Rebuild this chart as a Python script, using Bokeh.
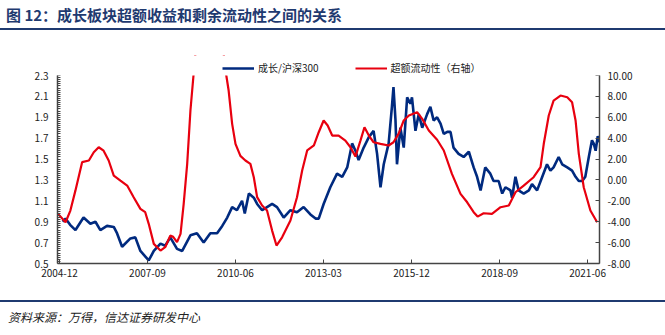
import pandas as pd
from bokeh.plotting import figure
from bokeh.models import (Range1d, LinearAxis, FixedTicker, DatetimeTickFormatter, BoxAnnotation,
                          Legend, LegendItem, Div, NumeralTickFormatter, ColumnDataSource)
from bokeh.layouts import column
from bokeh.embed import file_html
from bokeh.resources import INLINE

TITLE = "图 12：成长板块超额收益和剩余流动性之间的关系"
SOURCE = "资料来源：万得，信达证券研发中心"
SERIES_GROWTH = "成长/沪深300"
SERIES_LIQ = "超额流动性（右轴）"

growth_dates = [
    "2005-01-05", "2005-02-08", "2005-04-01", "2005-06-01", "2005-09-01", "2005-11-18",
    "2006-01-15", "2006-03-12", "2006-05-27", "2006-08-12", "2006-09-18", "2006-11-15",
    "2007-02-18", "2007-04-15", "2007-06-12", "2007-09-15", "2007-11-12", "2008-01-27",
    "2008-03-21", "2008-05-18", "2008-08-03", "2008-10-01", "2009-01-03", "2009-03-18",
    "2009-06-03", "2009-08-18", "2009-11-03", "2010-01-01", "2010-02-27", "2010-04-24",
    "2010-06-18", "2010-08-15", "2010-09-15", "2010-11-01", "2010-12-27", "2011-02-03",
    "2011-04-01", "2011-05-27", "2011-07-24", "2011-09-18", "2011-12-03", "2012-02-18",
    "2012-05-03", "2012-07-18", "2012-10-03", "2012-12-01", "2013-01-06", "2013-03-03",
    "2013-05-18", "2013-08-03", "2013-10-01", "2013-11-27", "2014-01-22", "2014-03-01",
    "2014-04-06", "2014-06-03", "2014-08-01", "2014-09-24", "2014-11-03", "2014-12-12",
    "2015-01-18", "2015-03-15", "2015-04-21", "2015-05-09", "2015-06-01", "2015-06-18",
    "2015-07-27", "2015-09-03", "2015-10-12", "2015-11-18", "2015-12-06", "2016-01-15",
    "2016-02-21", "2016-04-01", "2016-05-27", "2016-07-03", "2016-08-09", "2016-09-18",
    "2016-10-27", "2016-12-03", "2017-01-12", "2017-02-18", "2017-03-24", "2017-05-21",
    "2017-07-18", "2017-09-15", "2017-11-09", "2017-12-18", "2018-01-27", "2018-03-21",
    "2018-05-18", "2018-06-24", "2018-08-21", "2018-10-01", "2018-11-06", "2019-01-03",
    "2019-01-21", "2019-03-01", "2019-04-06", "2019-06-03", "2019-08-01", "2019-09-06",
    "2019-11-03", "2020-01-01", "2020-02-24", "2020-04-03", "2020-05-09", "2020-07-06",
    "2020-08-15", "2020-10-12", "2020-12-06", "2021-01-15", "2021-02-21", "2021-04-01",
    "2021-05-06", "2021-06-15", "2021-07-21", "2021-08-09", "2021-09-01", "2021-09-25",
    "2021-10-08",
]
growth_vals = [
    0.90, 0.93, 0.87, 0.82, 0.94, 0.88,
    0.90, 0.82, 0.86, 0.85, 0.79, 0.66,
    0.74, 0.75, 0.62, 0.53, 0.62, 0.69,
    0.67, 0.75, 0.64, 0.62, 0.77, 0.79,
    0.70, 0.79, 0.79, 0.86, 0.94, 1.04,
    1.01, 1.10, 0.98, 1.17, 1.13, 1.07,
    1.01, 1.04, 1.07, 1.04, 0.94, 1.01,
    0.99, 1.04, 0.97, 0.93, 0.93, 1.07,
    1.23, 1.36, 1.33, 1.42, 1.65, 1.58,
    1.49, 1.61, 1.71, 1.77, 1.55, 1.23,
    1.45, 1.65, 2.00, 2.19, 1.87, 1.45,
    1.80, 1.61, 2.09, 2.03, 2.09, 1.77,
    1.93, 1.80, 1.93, 2.00, 1.87, 1.90,
    1.84, 1.74, 1.76, 1.76, 1.61, 1.55,
    1.52, 1.57, 1.42, 1.33, 1.20, 1.42,
    1.36, 1.29, 1.29, 1.17, 1.23, 1.20,
    1.13, 1.33, 1.20, 1.17, 1.20, 1.26,
    1.20, 1.33, 1.45, 1.39, 1.42, 1.52,
    1.45, 1.42, 1.39, 1.33, 1.29, 1.29,
    1.33, 1.52, 1.68, 1.65, 1.58, 1.72,
    1.66,
]

liq_dates = [
    "2004-11-10", "2005-02-08", "2005-04-04", "2005-06-01", "2005-08-16", "2005-11-01",
    "2005-12-27", "2006-02-21", "2006-04-18", "2006-06-15", "2006-08-12", "2006-10-27",
    "2007-01-12", "2007-03-27", "2007-06-12", "2007-08-06", "2007-09-15", "2007-11-12",
    "2008-01-27", "2008-03-21", "2008-05-18", "2008-06-20", "2008-08-03", "2008-09-12",
    "2008-10-18", "2008-11-27", "2009-01-03", "2009-02-12", "2009-05-01", "2009-08-01",
    "2009-11-01", "2010-02-07", "2010-03-15", "2010-04-24", "2010-06-01", "2010-07-27",
    "2010-09-22", "2010-11-18", "2010-12-27", "2011-02-03", "2011-04-01", "2011-05-27",
    "2011-07-24", "2011-09-12", "2011-11-15", "2012-02-18", "2012-05-03", "2012-07-01",
    "2012-08-27", "2012-11-12", "2013-01-06", "2013-03-03", "2013-04-18", "2013-06-09",
    "2013-08-21", "2013-11-06", "2014-01-03", "2014-03-01", "2014-04-27", "2014-06-12",
    "2014-08-01", "2014-09-24", "2014-12-12", "2015-03-15", "2015-05-09", "2015-07-06",
    "2015-09-03", "2015-11-01", "2016-02-03", "2016-04-01", "2016-06-15", "2016-09-18",
    "2016-12-03", "2017-03-06", "2017-06-12", "2017-08-27", "2017-11-09", "2017-12-24",
    "2018-03-03", "2018-06-06", "2018-09-12", "2018-12-15", "2019-03-01", "2019-06-03",
    "2019-09-24", "2019-12-12", "2020-01-18", "2020-03-15", "2020-05-09", "2020-07-27",
    "2020-10-12", "2020-12-06", "2021-01-15", "2021-02-21", "2021-04-18", "2021-07-03",
    "2021-09-18",
]
liq_vals = [
    -3.2, -4.05, -2.93, -1.0, 1.7, 1.86,
    2.65, 3.13, 2.8, 1.86, 0.42, -0.06,
    -0.54, -1.65, -2.77, -3.09, -4.2, -6.12,
    -6.76, -6.44, -5.33, -5.45, -5.96, -5.16,
    -2.29, 1.54, 6.65, 10.5, 18.0, 22.0,
    18.0, 10.5, 8.56, 5.37, 3.46, 2.3,
    1.86, 1.54, 0.26, -1.65, -2.45, -2.93,
    -4.85, -6.28, -5.49, -3.89, -1.65, 0.9,
    2.82, 3.3, 4.57, 5.69, 5.21, 4.25,
    4.25, 3.77, 3.13, 2.24, 3.77, 5.05,
    4.25, 3.61, 3.46, 3.3, 3.61, 4.41,
    5.69, 6.17, 6.49, 5.85, 4.73, 3.85,
    2.82, 0.58, -1.33, -2.14, -3.09, -3.51,
    -3.19, -3.25, -2.61, -2.45, -1.18, -0.54,
    0.26, 1.22, 3.46, 6.17, 7.6, 8.08,
    7.92, 7.44, 5.69, 2.5, -0.7, -2.93,
    -4.05,
]

x_tick_labels = ["2004-12", "2007-09", "2010-06", "2013-03", "2015-12", "2018-09", "2021-06"]
left_ticks = [0.5, 0.7, 0.9, 1.1, 1.3, 1.5, 1.7, 1.9, 2.1, 2.3]
right_ticks = [-8, -6, -4, -2, 0, 2, 4, 6, 8, 10]
LEFT_MIN, LEFT_MAX = 0.5, 2.3
RIGHT_MIN, RIGHT_MAX = -8, 10

NAVY = "#002A7F"
RED = "#E8000F"
FONT = "Noto Sans CJK SC"

# frame layout (pixels): axes span 188 px; 20 px extra above for the legend row
AXIS_PX = 188
LEGEND_PX = 20
pad_left = (LEFT_MAX - LEFT_MIN) * LEGEND_PX / AXIS_PX
pad_right = (RIGHT_MAX - RIGHT_MIN) * LEGEND_PX / AXIS_PX


def to_ms(s):
    return (pd.Timestamp(s) - pd.Timestamp("1970-01-01")) // pd.Timedelta("1ms")


src_g = ColumnDataSource(dict(x=pd.to_datetime(growth_dates), y=growth_vals))
src_l = ColumnDataSource(dict(x=pd.to_datetime(liq_dates), y=liq_vals))

p = figure(width=665, height=268, x_axis_type="datetime",
           x_range=Range1d(pd.Timestamp("2004-11-08"), pd.Timestamp("2021-10-15")),
           y_range=Range1d(LEFT_MIN, LEFT_MAX + pad_left),
           output_backend="svg", toolbar_location=None,
           min_border_left=57, min_border_right=66, min_border_top=23, min_border_bottom=37)
p.extra_y_ranges = {"right": Range1d(RIGHT_MIN, RIGHT_MAX + pad_right)}
p.outline_line_color = None
p.xgrid.visible = False
p.ygrid.visible = False

r_g = p.line("x", "y", source=src_g, color=NAVY, line_width=2.6)
r_l = p.line("x", "y", source=src_l, color=RED, line_width=2.2, y_range_name="right")

# white band above the value axes (lines clip at the top of the axes)
p.add_layout(BoxAnnotation(bottom=LEFT_MAX, fill_color="white", fill_alpha=1.0,
                           line_color=None))

# bottom axis
xa = p.xaxis[0]
xa.ticker = FixedTicker(ticks=[to_ms(s + "-01") for s in x_tick_labels])
xa.formatter = DatetimeTickFormatter(years="%Y-%m", months="%Y-%m", days="%Y-%m",
                                     hours="%Y-%m", minutes="%Y-%m")
xa.major_tick_in = 4
xa.major_tick_out = 0
xa.minor_tick_line_color = None
xa.axis_line_color = "#444444"
xa.axis_line_width = 1.5
xa.major_tick_line_color = "#444444"
xa.major_label_standoff = 5

# left axis
ya = p.yaxis[0]
minor = [round(LEFT_MIN + 0.02 * i, 2) for i in range(91)]
ya.ticker = FixedTicker(ticks=left_ticks, minor_ticks=minor)
ya.formatter = NumeralTickFormatter(format="0.0")
ya.bounds = (LEFT_MIN, LEFT_MAX)
ya.major_tick_in = 0
ya.major_tick_out = 0
ya.minor_tick_in = 3
ya.minor_tick_out = 0
ya.axis_line_color = "#444444"
ya.axis_line_width = 1.5
ya.minor_tick_line_color = "#444444"
ya.major_label_standoff = 9

# right axis
ra = LinearAxis(y_range_name="right")
ra.ticker = FixedTicker(ticks=right_ticks)
ra.formatter = NumeralTickFormatter(format="0.00")
ra.bounds = (RIGHT_MIN, RIGHT_MAX)
ra.major_tick_in = 4
ra.major_tick_out = 0
ra.minor_tick_line_color = None
ra.axis_line_color = "#444444"
ra.axis_line_width = 1.5
ra.major_tick_line_color = "#444444"
ra.major_label_standoff = 8
p.add_layout(ra, "right")

for ax in (xa, ya, ra):
    ax.major_label_text_font = FONT
    ax.major_label_text_font_size = "10px"
    ax.major_label_text_color = "#222222"

legend = Legend(items=[LegendItem(label=SERIES_GROWTH, renderers=[r_g]),
                       LegendItem(label=SERIES_LIQ, renderers=[r_l])],
                orientation="horizontal", location=(165, 188),
                label_text_font=FONT, label_text_font_size="10px",
                label_text_color="#222222", glyph_width=32, glyph_height=10,
                label_standoff=4, spacing=36, padding=0, margin=0,
                label_height=12, border_line_color=None, background_fill_alpha=0)
p.add_layout(legend, "center")

title = Div(text=(f'<div style="width:665px;height:30px;box-sizing:border-box;'
                  f'border-bottom:2px solid #1F3A70;padding-left:6px;line-height:29px;'
                  f'font-family:\'{FONT}\';font-weight:bold;font-size:15px;color:#1F3A70;">'
                  f'{TITLE}</div>'),
            width=665, height=32, margin=(0, 0, 0, 0))
footer = Div(text=(f'<div style="width:665px;height:33px;box-sizing:border-box;'
                   f'border-top:2px solid #1F3A70;padding-left:8px;line-height:30px;'
                   f'font-family:\'{FONT}\';font-style:italic;font-size:12px;color:#222;">'
                   f'{SOURCE}</div>'),
             width=665, height=35, margin=(0, 0, 0, 0))

layout = column(title, p, footer, spacing=0)
open("out.html", "w").write(file_html(layout, INLINE))
